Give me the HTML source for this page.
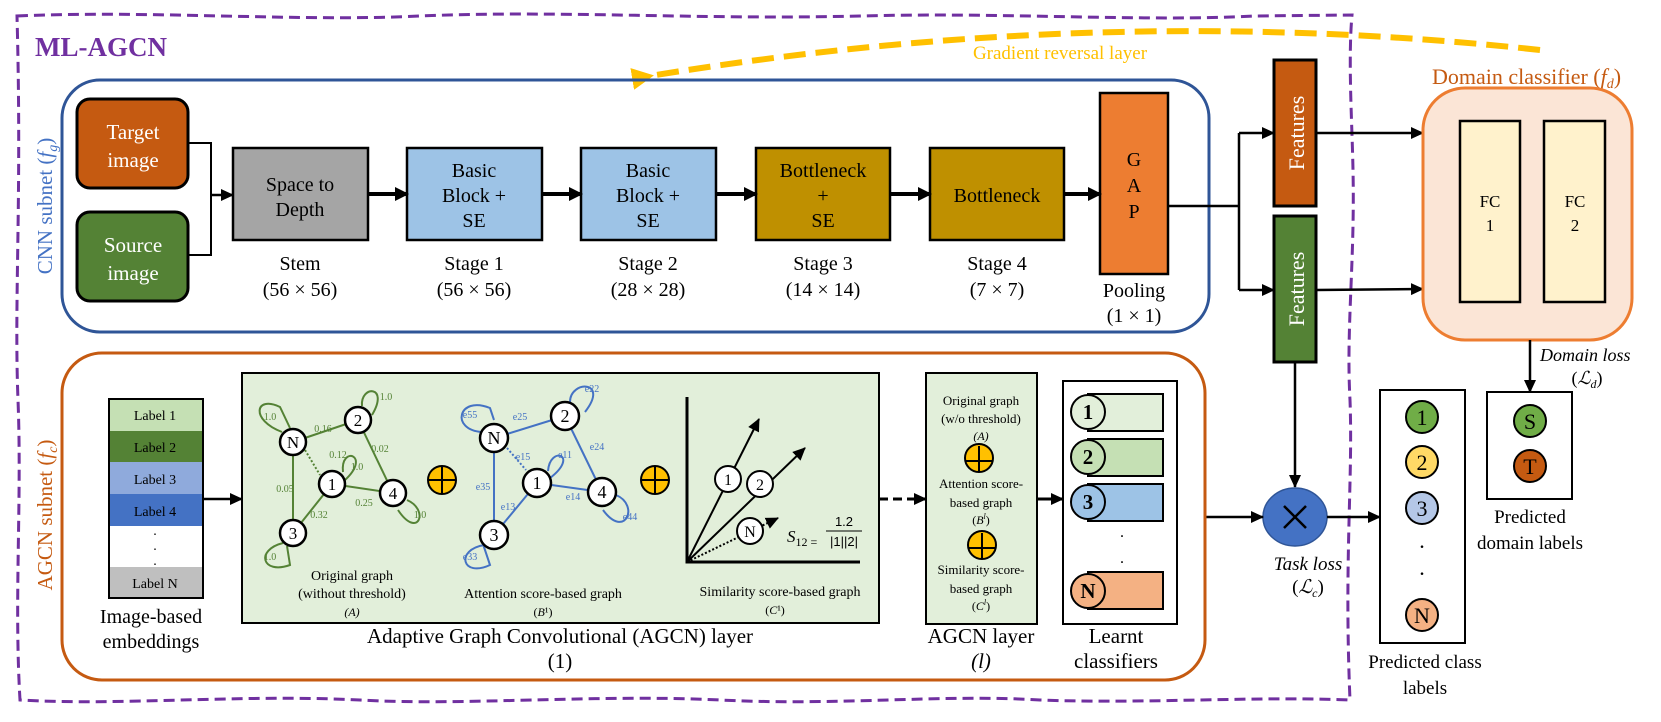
<!DOCTYPE html>
<html><head><meta charset="utf-8"><style>
body{margin:0;background:#fff}
svg{display:block;font-family:"Liberation Serif",serif}
</style></head><body>
<svg width="1661" height="722" viewBox="0 0 1661 722" xmlns="http://www.w3.org/2000/svg">
<defs>
<marker id="ar" markerWidth="14" markerHeight="14" refX="12" refY="7" orient="auto" markerUnits="userSpaceOnUse"><path d="M0,0 L14,7 L0,14 z" fill="#000"/></marker>
<marker id="arb" markerWidth="14" markerHeight="14" refX="12" refY="7" orient="auto" markerUnits="userSpaceOnUse"><path d="M0,1 L13,7 L0,13 z" fill="#000"/></marker>
<marker id="ay" markerWidth="22" markerHeight="22" refX="4" refY="11" orient="auto" markerUnits="userSpaceOnUse"><path d="M22,0 L0,11 L22,22 z" fill="#FFC000"/></marker>
</defs>

<path d="M17,16 C150,10 300,22 420,16 C560,10 700,20 860,16 C1000,12 1150,22 1253,16 L1352,15 C1348,60 1352,120 1353,170 C1355,260 1346,330 1350,400 C1353,480 1344,560 1350,700 C1250,696 1150,704 1040,700 C940,694 840,706 720,700 C600,694 460,706 360,700 C240,694 120,706 20,700 C14,600 22,500 18,400 C14,300 22,200 17,16 Z" fill="none" stroke="#7030A0" stroke-width="3" stroke-dasharray="11,6"/>
<text x="35" y="56" font-size="27" font-weight="bold" fill="#7030A0">ML-AGCN</text>

<path d="M1540,50 Q1100,2 650,76" fill="none" stroke="#FFC000" stroke-width="6" stroke-dasharray="22,10" marker-end="url(#ay)"/>
<text x="1060" y="59" font-size="19" fill="#FFC000" text-anchor="middle">Gradient reversal layer</text>

<rect x="62" y="80" width="1147" height="252" rx="38" fill="none" stroke="#2F5597" stroke-width="3"/>
<text transform="translate(52,206) rotate(-90)" font-size="21" fill="#4472C4" text-anchor="middle">CNN subnet (<tspan font-style="italic">f</tspan><tspan font-size="14" font-style="italic" dy="5">g</tspan><tspan dy="-5">)</tspan></text>

<rect x="77" y="99" width="111" height="89" rx="13" fill="#C55A11" stroke="#000" stroke-width="3"/>
<text x="133" y="139" font-size="21" fill="#fff" text-anchor="middle">Target</text>
<text x="133" y="167" font-size="21" fill="#fff" text-anchor="middle">image</text>
<rect x="77" y="212" width="111" height="89" rx="13" fill="#548235" stroke="#000" stroke-width="3"/>
<text x="133" y="252" font-size="21" fill="#fff" text-anchor="middle">Source</text>
<text x="133" y="280" font-size="21" fill="#fff" text-anchor="middle">image</text>
<path d="M188,143 H211 V255 H188" fill="none" stroke="#000" stroke-width="2"/>
<line x1="211" y1="195" x2="233" y2="195" stroke="#000" stroke-width="2.5" marker-end="url(#arb)"/>

<g stroke="#000" stroke-width="2.5">
<rect x="233" y="148" width="135" height="92" fill="#A5A5A5"/>
<rect x="407" y="148" width="135" height="92" fill="#9DC3E6"/>
<rect x="581" y="148" width="135" height="92" fill="#9DC3E6"/>
<rect x="756" y="148" width="134" height="92" fill="#BF9000"/>
<rect x="930" y="148" width="134" height="92" fill="#BF9000"/>
<rect x="1100" y="93" width="68" height="181" fill="#ED7D31"/>
</g>
<g stroke="#000" stroke-width="4">
<line x1="368" y1="194" x2="407" y2="194" marker-end="url(#ar)"/>
<line x1="542" y1="194" x2="581" y2="194" marker-end="url(#ar)"/>
<line x1="716" y1="194" x2="756" y2="194" marker-end="url(#ar)"/>
<line x1="890" y1="194" x2="930" y2="194" marker-end="url(#ar)"/>
<line x1="1064" y1="194" x2="1100" y2="194" marker-end="url(#ar)"/>
</g>
<g font-size="20" text-anchor="middle" fill="#000">
<text x="300" y="191">Space to</text><text x="300" y="216">Depth</text>
<text x="474" y="177">Basic</text><text x="474" y="202">Block +</text><text x="474" y="227">SE</text>
<text x="648" y="177">Basic</text><text x="648" y="202">Block +</text><text x="648" y="227">SE</text>
<text x="823" y="177">Bottleneck</text><text x="823" y="202">+</text><text x="823" y="227">SE</text>
<text x="997" y="202">Bottleneck</text>
<text x="1134" y="166">G</text><text x="1134" y="192">A</text><text x="1134" y="218">P</text>
<text x="300" y="270">Stem</text><text x="300" y="296">(56 × 56)</text>
<text x="474" y="270">Stage 1</text><text x="474" y="296">(56 × 56)</text>
<text x="648" y="270">Stage 2</text><text x="648" y="296">(28 × 28)</text>
<text x="823" y="270">Stage 3</text><text x="823" y="296">(14 × 14)</text>
<text x="997" y="270">Stage 4</text><text x="997" y="296">(7 × 7)</text>
<text x="1134" y="297">Pooling</text><text x="1134" y="322">(1 × 1)</text>
</g>

<path d="M1168,206 H1239 M1239,133 V290" stroke="#000" stroke-width="2.5" fill="none"/>
<line x1="1239" y1="133" x2="1274" y2="133" stroke="#000" stroke-width="2.5" marker-end="url(#arb)"/>
<line x1="1239" y1="290" x2="1274" y2="290" stroke="#000" stroke-width="2.5" marker-end="url(#arb)"/>
<rect x="1274" y="60" width="42" height="146" fill="#C55A11" stroke="#000" stroke-width="3"/>
<rect x="1274" y="216" width="42" height="146" fill="#548235" stroke="#000" stroke-width="3"/>
<text transform="translate(1304,133) rotate(-90)" font-size="22" fill="#fff" text-anchor="middle">Features</text>
<text transform="translate(1304,289) rotate(-90)" font-size="22" fill="#fff" text-anchor="middle">Features</text>
<line x1="1316" y1="133" x2="1423" y2="133" stroke="#000" stroke-width="2.5" marker-end="url(#arb)"/>
<line x1="1316" y1="290" x2="1423" y2="289" stroke="#000" stroke-width="2.5" marker-end="url(#arb)"/>

<text x="1432" y="84" font-size="22" fill="#C55A11">Domain classifier (<tspan font-style="italic">f</tspan><tspan font-size="14" font-style="italic" dy="4">d</tspan><tspan dy="-4">)</tspan></text>
<rect x="1423" y="88" width="209" height="252" rx="42" fill="#FBE5D6" stroke="#ED7D31" stroke-width="3"/>
<rect x="1460" y="121" width="60" height="181" fill="#FFF2CC" stroke="#000" stroke-width="2.5"/>
<rect x="1544" y="121" width="61" height="181" fill="#FFF2CC" stroke="#000" stroke-width="2.5"/>
<g font-size="17" text-anchor="middle"><text x="1490" y="207">FC</text><text x="1490" y="231">1</text><text x="1575" y="207">FC</text><text x="1575" y="231">2</text></g>
<line x1="1530" y1="340" x2="1530" y2="392" stroke="#000" stroke-width="2.5" marker-end="url(#arb)"/>
<text x="1540" y="361" font-size="18" font-style="italic">Domain loss</text>
<text x="1587" y="384" font-size="18" text-anchor="middle">(<tspan font-style="italic">ℒ</tspan><tspan font-size="12" font-style="italic" dy="4">d</tspan><tspan dy="-4">)</tspan></text>

<rect x="1487" y="392" width="85" height="107" fill="#fff" stroke="#000" stroke-width="2"/>
<circle cx="1530" cy="421" r="16" fill="#70AD47" stroke="#000" stroke-width="2"/>
<circle cx="1530" cy="466" r="16" fill="#C55A11" stroke="#000" stroke-width="2"/>
<g font-size="22" text-anchor="middle"><text x="1530" y="429">S</text><text x="1530" y="474">T</text></g>
<text x="1530" y="523" font-size="19" text-anchor="middle">Predicted</text>
<text x="1530" y="549" font-size="19" text-anchor="middle">domain labels</text>

<rect x="1380" y="390" width="85" height="253" fill="#fff" stroke="#000" stroke-width="2"/>
<circle cx="1422" cy="417" r="16" fill="#70AD47" stroke="#000" stroke-width="2"/>
<circle cx="1422" cy="462" r="16" fill="#FFD966" stroke="#000" stroke-width="2"/>
<circle cx="1422" cy="508" r="16" fill="#B4C7E7" stroke="#000" stroke-width="2"/>
<circle cx="1422" cy="615" r="16" fill="#F4B183" stroke="#000" stroke-width="2"/>
<g font-size="22" text-anchor="middle"><text x="1422" y="425">1</text><text x="1422" y="470">2</text><text x="1422" y="516">3</text><text x="1422" y="623">N</text><text x="1422" y="548">.</text><text x="1422" y="575">.</text></g>
<text x="1425" y="668" font-size="19" text-anchor="middle">Predicted class</text>
<text x="1425" y="694" font-size="19" text-anchor="middle">labels</text>

<line x1="1295" y1="362" x2="1295" y2="487" stroke="#000" stroke-width="2.5" marker-end="url(#arb)"/>
<ellipse cx="1295" cy="517" rx="32" ry="29" fill="#4472C4" stroke="#2F5597" stroke-width="1.5"/>
<path d="M1284,506 L1306,528 M1306,506 L1284,528" stroke="#000" stroke-width="2.5"/>
<line x1="1205" y1="517" x2="1263" y2="517" stroke="#000" stroke-width="2.5" marker-end="url(#arb)"/>
<line x1="1327" y1="517" x2="1380" y2="517" stroke="#000" stroke-width="2.5" marker-end="url(#arb)"/>
<text x="1308" y="570" font-size="19" font-style="italic" text-anchor="middle">Task loss</text>
<text x="1308" y="593" font-size="19" text-anchor="middle">(<tspan font-style="italic">ℒ</tspan><tspan font-size="12" font-style="italic" dy="4">c</tspan><tspan dy="-4">)</tspan></text>

<rect x="62" y="353" width="1143" height="327" rx="40" fill="none" stroke="#C55A11" stroke-width="3"/>
<text transform="translate(52,515) rotate(-90)" font-size="21" fill="#C55A11" text-anchor="middle">AGCN subnet (<tspan font-style="italic">f</tspan><tspan font-size="14" font-style="italic" dy="5">c</tspan><tspan dy="-5">)</tspan></text>

<g stroke="none">
<rect x="109" y="399" width="94" height="32" fill="#C5E0B4"/>
<rect x="109" y="431" width="94" height="31" fill="#548235"/>
<rect x="109" y="462" width="94" height="32" fill="#8FAADC"/>
<rect x="109" y="494" width="94" height="32" fill="#4472C4"/>
<rect x="109" y="567" width="94" height="31" fill="#BFBFBF"/>
</g>
<rect x="109" y="399" width="94" height="199" fill="none" stroke="#000" stroke-width="2"/>
<g font-size="14" text-anchor="middle"><text x="155" y="420">Label 1</text><text x="155" y="452">Label 2</text><text x="155" y="484">Label 3</text><text x="155" y="516">Label 4</text><text x="155" y="588">Label N</text>
<text x="155" y="535">.</text><text x="155" y="550">.</text><text x="155" y="565">.</text></g>
<text x="151" y="623" font-size="20" text-anchor="middle">Image-based</text>
<text x="151" y="648" font-size="20" text-anchor="middle">embeddings</text>
<line x1="203" y1="499" x2="242" y2="499" stroke="#000" stroke-width="2.5" marker-end="url(#arb)"/>

<rect x="242" y="373" width="637" height="250" fill="#E2EFDA" stroke="#000" stroke-width="2"/>
<g stroke="#548235" stroke-width="2" fill="none">
<line x1="293" y1="442" x2="358" y2="420"/><line x1="358" y1="420" x2="393" y2="493"/>
<line x1="332" y1="484" x2="393" y2="493"/><line x1="293" y1="442" x2="293" y2="533"/>
<line x1="332" y1="484" x2="293" y2="533"/>
<path d="M282,432 C250,420 255,395 280,407 L290,428"/>
<path d="M362,406 C360,385 390,385 372,415"/>
<path d="M343,472 C340,445 372,455 345,480"/>
<path d="M407,500 C430,510 418,540 398,510"/>
<path d="M283,543 C255,550 262,575 290,565 L287,546"/>
</g>
<line x1="305" y1="450" x2="320" y2="475" stroke="#548235" stroke-width="2" stroke-dasharray="2,2"/>
<g font-size="10" fill="#548235" text-anchor="middle"><text x="323" y="432">0.16</text><text x="380" y="452">0.02</text><text x="338" y="458">0.12</text><text x="364" y="506">0.25</text><text x="285" y="492">0.05</text><text x="319" y="518">0.32</text><text x="270" y="420">1.0</text><text x="386" y="400">1.0</text><text x="357" y="470">1.0</text><text x="420" y="518">1.0</text><text x="270" y="560">1.0</text></g>
<g fill="#fff" stroke="#000" stroke-width="2.5">
<circle cx="293" cy="442" r="13"/><circle cx="358" cy="420" r="13"/><circle cx="332" cy="484" r="13"/><circle cx="393" cy="493" r="13"/><circle cx="293" cy="533" r="13"/>
</g>
<g font-size="17" text-anchor="middle"><text x="293" y="448">N</text><text x="358" y="426">2</text><text x="332" y="490">1</text><text x="393" y="499">4</text><text x="293" y="539">3</text></g>

<g stroke="#4472C4" stroke-width="2" fill="none">
<line x1="494" y1="438" x2="565" y2="416"/><line x1="565" y1="416" x2="602" y2="492"/>
<line x1="537" y1="483" x2="602" y2="492"/><line x1="494" y1="438" x2="494" y2="535"/>
<line x1="537" y1="483" x2="494" y2="535"/>
<path d="M482,432 C450,430 458,395 490,408 L494,420"/>
<path d="M570,402 C570,380 610,380 585,412"/>
<path d="M548,471 C550,445 580,455 550,478"/>
<path d="M616,495 C640,505 625,540 603,510"/>
<path d="M484,545 C455,550 462,578 490,565 L480,535"/>
</g>
<line x1="507" y1="448" x2="526" y2="470" stroke="#4472C4" stroke-width="2" stroke-dasharray="2,2"/>
<g font-size="10" fill="#4472C4" text-anchor="middle"><text x="520" y="420">e25</text><text x="470" y="418">e55</text><text x="592" y="392">e22</text><text x="597" y="450">e24</text><text x="523" y="460">e15</text><text x="565" y="458">e11</text><text x="573" y="500">e14</text><text x="630" y="520">e44</text><text x="483" y="490">e35</text><text x="508" y="510">e13</text><text x="470" y="560">e33</text></g>
<g fill="#fff" stroke="#000" stroke-width="2.5">
<circle cx="494" cy="438" r="14"/><circle cx="565" cy="416" r="14"/><circle cx="537" cy="483" r="14"/><circle cx="602" cy="492" r="14"/><circle cx="494" cy="535" r="14"/>
</g>
<g font-size="18" text-anchor="middle"><text x="494" y="444">N</text><text x="565" y="422">2</text><text x="537" y="489">1</text><text x="602" y="498">4</text><text x="494" y="541">3</text></g>

<g stroke="#000" stroke-width="2">
<circle cx="442" cy="480" r="14" fill="#FFC000"/><path d="M429,480 H455 M442,467 V493"/>
<circle cx="655" cy="480" r="14" fill="#FFC000"/><path d="M642,480 H668 M655,467 V493"/>
</g>

<path d="M687,397 V562 H860" stroke="#000" stroke-width="3" fill="none"/>
<line x1="687" y1="562" x2="759" y2="419" stroke="#000" stroke-width="2" marker-end="url(#arb)"/>
<line x1="687" y1="562" x2="805" y2="448" stroke="#000" stroke-width="2" marker-end="url(#arb)"/>
<line x1="687" y1="562" x2="778" y2="518" stroke="#000" stroke-width="2" stroke-dasharray="2,2" marker-end="url(#arb)"/>
<g fill="#fff" stroke="#000" stroke-width="2">
<circle cx="728" cy="479" r="13"/><circle cx="760" cy="484" r="13"/><circle cx="750" cy="531" r="13"/>
</g>
<g font-size="16" text-anchor="middle"><text x="728" y="485">1</text><text x="760" y="490">2</text><text x="750" y="537">N</text></g>
<text x="787" y="542" font-size="17" font-style="italic">S<tspan font-size="12" font-style="normal" dy="4">12 =</tspan></text>
<text x="844" y="526" font-size="13" font-family="Liberation Sans, sans-serif" text-anchor="middle">1.2</text>
<line x1="826" y1="531" x2="862" y2="531" stroke="#000" stroke-width="1"/>
<text x="844" y="546" font-size="13" font-family="Liberation Sans, sans-serif" text-anchor="middle">|1||2|</text>

<g font-size="14" text-anchor="middle">
<text x="352" y="580">Original graph</text><text x="352" y="598">(without threshold)</text><text x="352" y="616" font-size="12" font-style="italic">(A)</text>
<text x="543" y="598">Attention score-based graph</text><text x="543" y="616" font-size="12">(<tspan font-style="italic">B</tspan>¹)</text>
<text x="780" y="596">Similarity score-based graph</text><text x="775" y="614" font-size="12">(<tspan font-style="italic">C</tspan>¹)</text>
</g>
<text x="560" y="643" font-size="21" text-anchor="middle">Adaptive Graph Convolutional (AGCN) layer</text>
<text x="560" y="668" font-size="21" text-anchor="middle">(1)</text>

<line x1="879" y1="499" x2="926" y2="499" stroke="#000" stroke-width="3" stroke-dasharray="9,5" marker-end="url(#arb)"/>

<rect x="926" y="373" width="111" height="251" fill="#E2EFDA" stroke="#000" stroke-width="2"/>
<g font-size="13" text-anchor="middle">
<text x="981" y="405">Original graph</text><text x="981" y="423">(w/o threshold)</text><text x="981" y="440" font-style="italic" font-size="12">(A)</text>
<text x="981" y="488">Attention score-</text><text x="981" y="507">based graph</text><text x="981" y="524" font-size="12">(<tspan font-style="italic">B<tspan font-size="8" dy="-5">l</tspan></tspan><tspan dy="5">)</tspan></text>
<text x="981" y="574">Similarity score-</text><text x="981" y="593">based graph</text><text x="981" y="610" font-size="12">(<tspan font-style="italic">C<tspan font-size="8" dy="-5">l</tspan></tspan><tspan dy="5">)</tspan></text>
</g>
<g stroke="#000" stroke-width="2">
<circle cx="979" cy="458" r="14" fill="#FFC000"/><path d="M966,461 H992 M979,446 V472"/>
<circle cx="982" cy="545" r="14" fill="#FFC000"/><path d="M969,548 H995 M982,533 V559"/>
</g>
<text x="981" y="643" font-size="21" text-anchor="middle">AGCN layer</text>
<text x="981" y="668" font-size="21" text-anchor="middle" font-style="italic">(l)</text>
<line x1="1037" y1="499" x2="1063" y2="499" stroke="#000" stroke-width="3" marker-end="url(#arb)"/>

<rect x="1063" y="381" width="114" height="243" fill="#fff" stroke="#000" stroke-width="2"/>
<g stroke="#000" stroke-width="2">
<rect x="1088" y="394" width="75" height="37" fill="#E2EFDA"/><circle cx="1088" cy="412" r="17" fill="#E2EFDA"/>
<rect x="1088" y="439" width="75" height="37" fill="#C5E0B4"/><circle cx="1088" cy="457" r="17" fill="#C5E0B4"/>
<rect x="1088" y="484" width="75" height="37" fill="#9DC3E6"/><circle cx="1088" cy="502" r="17" fill="#9DC3E6"/>
<rect x="1088" y="572" width="75" height="37" fill="#F4B183"/><circle cx="1088" cy="591" r="17" fill="#F4B183"/>
</g>
<g font-size="21" font-weight="bold" text-anchor="middle"><text x="1088" y="419">1</text><text x="1088" y="464">2</text><text x="1088" y="509">3</text><text x="1088" y="598">N</text></g>
<text x="1122" y="537" font-size="16" text-anchor="middle">.</text><text x="1122" y="563" font-size="16" text-anchor="middle">.</text>
<text x="1116" y="643" font-size="21" text-anchor="middle">Learnt</text>
<text x="1116" y="668" font-size="21" text-anchor="middle">classifiers</text>
</svg>
</body></html>
